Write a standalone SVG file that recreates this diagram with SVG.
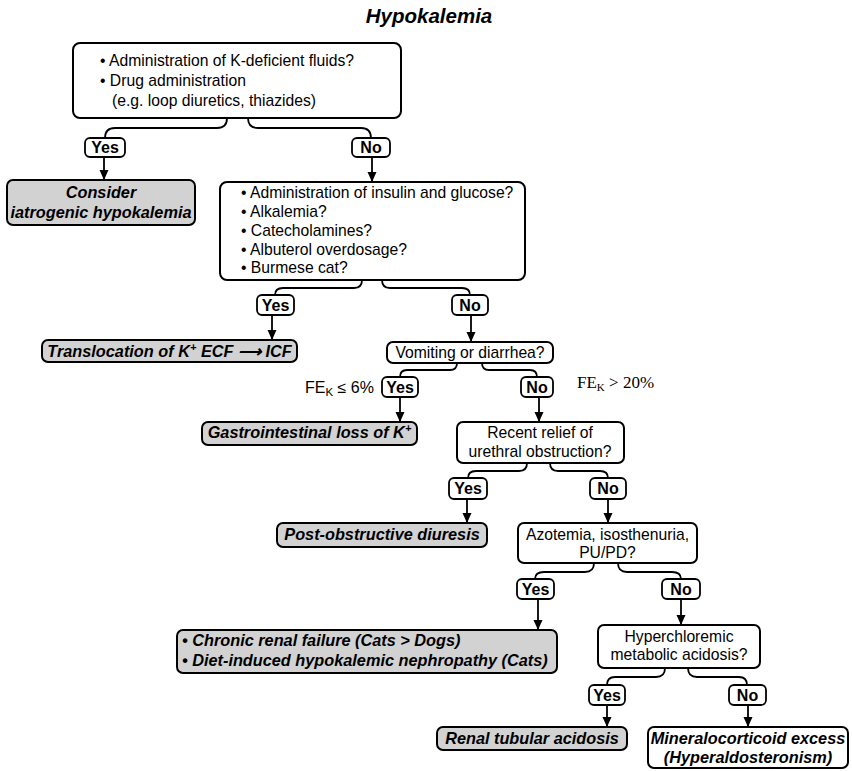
<svg xmlns="http://www.w3.org/2000/svg" width="852" height="771" viewBox="0 0 852 771">
<defs>
<style>
.box{fill:#fff;stroke:#000;stroke-width:2}
.gray{fill:#d2d2d2;stroke:#000;stroke-width:2}
.lbl{fill:#fff;stroke:#000;stroke-width:1.8}
text{font-family:"Liberation Sans",Arial,Helvetica,sans-serif;font-size:15.7px;fill:#000}
.b{font-weight:bold;font-size:16px}
.bi{font-weight:bold;font-style:italic;font-size:16.3px}
.c{text-anchor:middle}
.conn{fill:none;stroke:#000;stroke-width:1.8}
.arr{fill:none;stroke:#000;stroke-width:1.8;marker-end:url(#ah)}
</style>
<marker id="ah" markerUnits="userSpaceOnUse" markerWidth="10" markerHeight="10" refX="10" refY="5" orient="auto">
<path d="M0,0.5 L10,5 L0,9.5 z" fill="#000"/>
</marker>
</defs>
<rect width="852" height="771" fill="#fff"/>
<text x="429" y="23" class="bi c" style="font-size:20.5px">Hypokalemia</text>

<g id="connectors">
<path class="conn" d="M227,118 Q227,128 217,128 H115 Q105,128 105,138"/>
<path class="conn" d="M248,118 Q248,128 258,128 H361 Q371,128 371,138"/>
<path class="arr" d="M104,157 V180"/>
<path class="arr" d="M372,157 V182"/>

<path class="conn" d="M362,280 Q362,288 354,288 H283 Q275,288 275,295"/>
<path class="conn" d="M382,280 Q382,288 390,288 H462 Q470,288 470,295"/>
<path class="arr" d="M272,315 V340"/>
<path class="arr" d="M471,315 V342"/>

<path class="conn" d="M457,363 Q457,370 450,370 H407 Q400,370 400,377"/>
<path class="conn" d="M482,363 Q482,370 489,370 H530 Q537,370 537,377"/>
<path class="arr" d="M400,397 V422"/>
<path class="arr" d="M539,397 V422"/>

<path class="conn" d="M527,463 Q527,471 519,471 H476 Q468,471 468,478"/>
<path class="conn" d="M550,463 Q550,471 558,471 H600 Q608,471 608,478"/>
<path class="arr" d="M467,499 V523"/>
<path class="arr" d="M608,499 V523"/>

<path class="conn" d="M594,563 Q594,572 585,572 H544 Q535,572 535,579"/>
<path class="conn" d="M618,563 Q618,572 627,572 H672 Q681,572 681,579"/>
<path class="arr" d="M538,599 V630"/>
<path class="arr" d="M681,599 V625"/>

<path class="conn" d="M665,668 Q665,677 656,677 H615 Q607,677 607,685"/>
<path class="conn" d="M688,668 Q688,677 697,677 H739 Q747,677 747,685"/>
<path class="arr" d="M607,705 V727"/>
<path class="arr" d="M748,705 V727"/>
</g>

<g id="labels">
<rect class="lbl" x="85" y="138" width="40" height="19" rx="5"/><text x="105" y="153" class="b c">Yes</text>
<rect class="lbl" x="352" y="138" width="38" height="19" rx="5"/><text x="371" y="153" class="b c">No</text>
<rect class="lbl" x="257" y="295" width="37" height="20" rx="5"/><text x="275.5" y="311" class="b c">Yes</text>
<rect class="lbl" x="452" y="295" width="36" height="20" rx="5"/><text x="470" y="311" class="b c">No</text>
<rect class="lbl" x="382" y="377" width="36" height="20" rx="5"/><text x="400" y="393" class="b c">Yes</text>
<rect class="lbl" x="521" y="377" width="32" height="20" rx="5"/><text x="537" y="393" class="b c">No</text>
<rect class="lbl" x="449" y="478" width="38" height="21" rx="5"/><text x="468" y="494" class="b c">Yes</text>
<rect class="lbl" x="590" y="478" width="36" height="21" rx="5"/><text x="608" y="494" class="b c">No</text>
<rect class="lbl" x="517" y="579" width="37" height="20" rx="5"/><text x="535.5" y="595" class="b c">Yes</text>
<rect class="lbl" x="662" y="579" width="38" height="20" rx="5"/><text x="681" y="595" class="b c">No</text>
<rect class="lbl" x="589" y="685" width="36" height="20" rx="5"/><text x="607" y="701" class="b c">Yes</text>
<rect class="lbl" x="729" y="685" width="37" height="20" rx="5"/><text x="747.5" y="701" class="b c">No</text>
</g>

<g id="q1">
<rect class="box" x="73" y="43" width="328" height="75" rx="7"/>
<text x="100" y="66">• Administration of K-deficient fluids?</text>
<text x="100" y="86">• Drug administration</text>
<text x="112" y="106">(e.g. loop diuretics, thiazides)</text>
</g>

<g id="iatrogenic">
<rect class="gray" x="7" y="180" width="188" height="45" rx="6"/>
<text x="101" y="198" class="bi c">Consider</text>
<text x="101" y="218" class="bi c">iatrogenic hypokalemia</text>
</g>

<g id="q2">
<rect class="box" x="220" y="182" width="305" height="98" rx="7"/>
<text x="241" y="198">• Administration of insulin and glucose?</text>
<text x="241" y="217">• Alkalemia?</text>
<text x="241" y="236">• Catecholamines?</text>
<text x="241" y="255">• Albuterol overdosage?</text>
<text x="241" y="273">• Burmese cat?</text>
</g>

<g id="translocation">
<rect class="gray" x="42" y="340" width="255" height="22" rx="6"/>
<text x="169.5" y="357" class="bi c">Translocation of K<tspan font-size="11" dy="-6">+</tspan><tspan dy="6"> ECF ⟶ ICF</tspan></text>
</g>

<g id="q3">
<rect class="box" x="387" y="342" width="166" height="21" rx="6"/>
<text x="470" y="358" class="c">Vomiting or diarrhea?</text>
</g>

<g id="fe-low">
<text x="305" y="393" style="font-size:16px">FE<tspan font-size="11.5" dy="3">K</tspan><tspan dy="-3"> ≤ 6%</tspan></text>
</g>
<g id="fe-high">
<text x="577" y="388" style="font-family:'Liberation Serif','Times New Roman',serif;font-size:17px">FE<tspan font-size="11" dy="3">K</tspan><tspan dy="-3"> &gt; 20%</tspan></text>
</g>

<g id="gi">
<rect class="gray" x="202" y="422" width="215" height="23" rx="6"/>
<text x="309.5" y="438" class="bi c">Gastrointestinal loss of K<tspan font-size="11" dy="-6">+</tspan></text>
</g>

<g id="q4">
<rect class="box" x="457" y="422" width="167" height="41" rx="6"/>
<text x="540" y="438" class="c">Recent relief of</text>
<text x="540" y="457" class="c">urethral obstruction?</text>
</g>

<g id="postobstructive">
<rect class="gray" x="277" y="523" width="210" height="24" rx="6"/>
<text x="382" y="540" class="bi c">Post-obstructive diuresis</text>
</g>

<g id="q5">
<rect class="box" x="518" y="523" width="179" height="40" rx="6"/>
<text x="607.5" y="540" class="c">Azotemia, isosthenuria,</text>
<text x="607.5" y="558" class="c">PU/PD?</text>
</g>

<g id="renal">
<rect class="gray" x="177" y="630" width="380" height="43" rx="6"/>
<text x="182" y="646" class="bi">• Chronic renal failure (Cats &gt; Dogs)</text>
<text x="182" y="666" class="bi">• Diet-induced hypokalemic nephropathy (Cats)</text>
</g>

<g id="q6">
<rect class="box" x="598" y="625" width="162" height="43" rx="6"/>
<text x="679" y="642" class="c">Hyperchloremic</text>
<text x="679" y="660" class="c">metabolic acidosis?</text>
</g>

<g id="rta">
<rect class="gray" x="437" y="727" width="190" height="23" rx="6"/>
<text x="532" y="744" class="bi c">Renal tubular acidosis</text>
</g>

<g id="mineralocorticoid">
<rect class="box" x="648" y="727" width="200" height="41" rx="6"/>
<text x="748" y="744" class="bi c">Mineralocorticoid excess</text>
<text x="748" y="763" class="bi c">(Hyperaldosteronism)</text>
</g>
</svg>
